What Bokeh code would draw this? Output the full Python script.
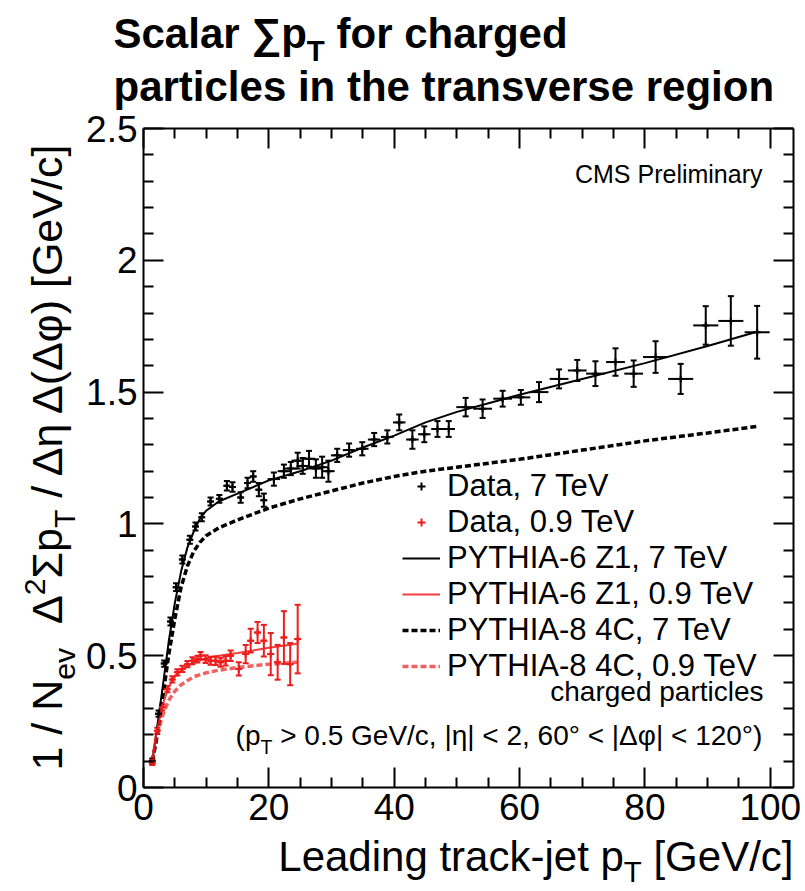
import math
from bokeh.plotting import figure
from bokeh.models import (Range1d, LinearAxis, FixedTicker, ColumnDataSource, Whisker,
                          TeeHead, Label, Legend, LegendItem, NumeralTickFormatter,
                          CustomLabelingPolicy)
from bokeh.embed import file_html
from bokeh.resources import INLINE

# ---------------- data ----------------
x_ticks = [0, 20, 40, 60, 80, 100]
x_minor = [5, 10, 15, 25, 30, 35, 45, 50, 55, 65, 70, 75, 85, 90, 95]
y_ticks = [0, 0.5, 1.0, 1.5, 2.0, 2.5]
y_minor = [0.1, 0.2, 0.3, 0.4, 0.6, 0.7, 0.8, 0.9, 1.1, 1.2, 1.3, 1.4,
           1.6, 1.7, 1.8, 1.9, 2.1, 2.2, 2.3, 2.4]
X_MAX, Y_MAX = 103.7, 2.5

# Data, 7 TeV
x7 = [1.4, 2.4, 3.3, 4.3, 5.2, 6.2, 7.4, 8.3, 9.3, 10.7, 12.1, 13.3, 14.2, 15.5, 16.6, 17.5,
      18.4, 19.2, 20.8, 22.4, 23.5, 24.6, 25.4, 26.4, 27.5, 28.5, 29.5, 30.9, 32.8, 34.9,
      36.8, 38.9, 40.8, 42.9, 44.8, 46.9, 48.7, 51.4, 54.1, 57.3, 60.2, 63.1, 66.3, 69.2,
      72.1, 75.3, 78.2, 81.7, 85.7, 89.7, 93.7, 97.9]
y7 = [0.10, 0.28, 0.47, 0.63, 0.76, 0.865, 0.94, 0.99, 1.025, 1.085, 1.095, 1.145, 1.14,
      1.10, 1.155, 1.18, 1.13, 1.09, 1.17, 1.20, 1.21, 1.24, 1.22, 1.247, 1.21, 1.215, 1.20,
      1.26, 1.28, 1.285, 1.32, 1.33, 1.385, 1.32, 1.34, 1.36, 1.36, 1.443, 1.437, 1.475,
      1.48, 1.50, 1.55, 1.582, 1.57, 1.614, 1.57, 1.633, 1.55, 1.753, 1.77, 1.727]
ey7 = [0.01, 0.012, 0.012, 0.015, 0.015, 0.015, 0.015, 0.015, 0.015, 0.015, 0.015, 0.018,
       0.018, 0.02, 0.02, 0.02, 0.025, 0.025, 0.025, 0.025, 0.025, 0.03, 0.03, 0.03, 0.035,
       0.04, 0.04, 0.025, 0.025, 0.025, 0.025, 0.025, 0.03, 0.035, 0.03, 0.03, 0.03, 0.035,
       0.035, 0.03, 0.028, 0.038, 0.036, 0.04, 0.047, 0.052, 0.05, 0.06, 0.057, 0.073,
       0.094, 0.1]
ex7 = [0.5] * 18 + [1.0] * 19 + [1.5] * 10 + [2.0] * 5

# Data, 0.9 TeV
x09 = [1.4, 2.2, 3.0, 3.8, 4.6, 5.4, 6.2, 7.0, 7.8, 8.6, 9.1, 9.9, 10.7, 11.5, 12.3, 13.1,
       13.9, 15.2, 16.3, 17.1, 18.2, 19.2, 20.3, 21.4, 22.4, 23.4, 24.6]
y09 = [0.095, 0.215, 0.304, 0.373, 0.41, 0.437, 0.45, 0.468, 0.481, 0.487, 0.50, 0.487,
       0.481, 0.481, 0.475, 0.481, 0.50, 0.45, 0.506, 0.557, 0.588, 0.557, 0.506, 0.475,
       0.569, 0.468, 0.563]
ey09 = [0.01, 0.012, 0.012, 0.012, 0.012, 0.012, 0.012, 0.012, 0.013, 0.013, 0.014, 0.015,
        0.015, 0.016, 0.017, 0.018, 0.02, 0.025, 0.035, 0.045, 0.04, 0.06, 0.08, 0.066,
        0.1, 0.08, 0.13]
ex09 = [0.4] * 17 + [0.5] * 10

# PYTHIA curves
xm7 = [1.4, 2, 3, 4, 5, 6, 7, 8, 9, 10, 12, 15, 20, 25, 30, 35, 40, 45, 50, 60, 70, 80, 90, 98]
z1_7 = [0.10, 0.20, 0.37, 0.55, 0.70, 0.82, 0.91, 0.97, 1.02, 1.05, 1.085, 1.115, 1.165,
        1.20, 1.24, 1.29, 1.335, 1.385, 1.425, 1.49, 1.55, 1.61, 1.675, 1.73]
c4_7 = [0.10, 0.17, 0.33, 0.50, 0.64, 0.76, 0.84, 0.895, 0.93, 0.955, 0.985, 1.015, 1.06,
        1.095, 1.125, 1.155, 1.18, 1.20, 1.215, 1.245, 1.28, 1.315, 1.345, 1.37]
xm09 = [1.4, 2, 3, 4, 5, 6, 8, 10, 12, 15, 20, 24.5]
z1_09 = [0.10, 0.20, 0.31, 0.38, 0.42, 0.445, 0.475, 0.49, 0.50, 0.51, 0.53, 0.545]
c4_09 = [0.10, 0.18, 0.27, 0.33, 0.365, 0.39, 0.42, 0.435, 0.445, 0.455, 0.468, 0.475]

legend_labels = ["Data, 7 TeV", "Data, 0.9 TeV", "PYTHIA-6 Z1, 7 TeV",
                 "PYTHIA-6 Z1, 0.9 TeV", "PYTHIA-8 4C, 7 TeV", "PYTHIA-8 4C, 0.9 TeV"]

# ---------------- layout ----------------
FONT = "Liberation Sans"
W, H = 805, 891
FL, FR, FT, FB = 143, 793, 128, 787        # data-area edges in canvas px
RED = "#ee1c1c"
SX = (FR - FL) / X_MAX
SY = (FB - FT) / Y_MAX

# the frame fills the whole canvas; the data area is placed through the ranges
p = figure(width=W, height=H, output_backend="svg", toolbar_location=None,
           x_range=Range1d(-FL / SX, X_MAX + (W - FR) / SX),
           y_range=Range1d(-(H - FB) / SY, Y_MAX + FT / SY),
           x_axis_type=None, y_axis_type=None,
           min_border_left=0, min_border_right=0, min_border_top=0, min_border_bottom=0)
p.outline_line_color = None
p.background_fill_color = "white"
p.border_fill_color = "white"

hide_all = CustomLabelingPolicy(
    code="for (const i of Array.from(indices)) { indices.unset(i) } return indices")


def mk_axis(ticks, minor, loc, bounds, show_labels, fmt=None):
    ax = LinearAxis(ticker=FixedTicker(ticks=ticks, minor_ticks=minor),
                    fixed_location=loc, bounds=bounds)
    ax.major_tick_in = 20
    ax.major_tick_out = 0
    ax.minor_tick_in = 10
    ax.minor_tick_out = 0
    ax.axis_line_width = 2
    ax.axis_line_color = "black"
    ax.major_tick_line_width = 2
    ax.minor_tick_line_width = 2
    ax.major_label_text_font = FONT
    ax.major_label_text_color = "black"
    ax.major_label_text_font_size = "37px"
    ax.major_label_standoff = 6
    if not show_labels:
        ax.major_label_policy = hide_all
    if fmt is not None:
        ax.formatter = fmt
    return ax


p.add_layout(mk_axis(x_ticks, x_minor, 0, (0, X_MAX), True), "below")
p.add_layout(mk_axis(x_ticks, x_minor, Y_MAX, (0, X_MAX), False), "above")
p.add_layout(mk_axis(y_ticks, y_minor, 0, (0, Y_MAX), True,
                     NumeralTickFormatter(format="0.[0]")), "left")
p.add_layout(mk_axis(y_ticks, y_minor, X_MAX, (0, Y_MAX), False), "right")

# ---------------- curves ----------------
r_z17 = p.line(xm7, z1_7, line_color="black", line_width=2)
r_c47 = p.line(xm7, c4_7, line_color="black", line_width=3.5, line_dash="6 3")
r_z109 = p.line(xm09, z1_09, line_color=RED, line_width=2, line_alpha=0.85)
r_c409 = p.line(xm09, c4_09, line_color=RED, line_width=3.5, line_dash="6 3", line_alpha=0.7)


# ---------------- data points ----------------
def data_series(xs, ys, eys, exs, color):
    src = ColumnDataSource(dict(
        x=xs, y=ys,
        lo=[y - e for y, e in zip(ys, eys)], hi=[y + e for y, e in zip(ys, eys)],
        xl=[x - e for x, e in zip(xs, exs)], xh=[x + e for x, e in zip(xs, exs)]))
    w = Whisker(source=src, base="x", upper="hi", lower="lo", dimension="height",
                line_color=color, line_width=2,
                upper_head=TeeHead(size=6, line_color=color, line_width=2),
                lower_head=TeeHead(size=6, line_color=color, line_width=2))
    p.add_layout(w)
    p.segment(x0="xl", y0="y", x1="xh", y1="y", source=src, line_color=color, line_width=2)
    return p.scatter("x", "y", source=src, marker="cross", size=7, line_color=color,
                     line_width=2)


r_d7 = data_series(x7, y7, ey7, ex7, "black")
r_d09 = data_series(x09, y09, ey09, ex09, RED)

# ---------------- legend ----------------
legend = Legend(items=[LegendItem(label=lab, renderers=[r]) for lab, r in
                       zip(legend_labels, [r_d7, r_d09, r_z17, r_z109, r_c47, r_c409])],
                location=(402, H - 684))
legend.label_text_font = FONT
legend.label_text_font_size = "31px"
legend.label_text_color = "black"
legend.glyph_width = 38
legend.glyph_height = 20
legend.label_standoff = 7
legend.padding = 0
legend.margin = 0
legend.spacing = 0
legend.border_line_color = None
legend.background_fill_alpha = 0
p.add_layout(legend)

# ---------------- texts ----------------
REG = {' ': 278, '(': 333, ')': 333, ',': 278, '-': 333, '.': 278, '/': 278, '<': 584,
       '>': 584, '[': 278, ']': 278, '|': 260, '°': 400,
       'A': 667, 'C': 722, 'E': 667, 'G': 778, 'H': 722, 'I': 278, 'L': 556, 'M': 833,
       'N': 722, 'P': 667, 'S': 667, 'T': 611, 'V': 667, 'Y': 667, 'Z': 611,
       'a': 556, 'c': 500, 'd': 556, 'e': 556, 'g': 556, 'h': 556, 'i': 222, 'j': 222,
       'k': 500, 'l': 222, 'm': 833, 'n': 556, 'o': 556, 'p': 556, 'r': 333, 's': 500,
       't': 278, 'v': 500, 'y': 500, 'Δ': 668, 'Σ': 618, 'η': 556, 'φ': 650, '∑': 713}
BOLD = {' ': 278, 'S': 667, 'T': 611, 'a': 556, 'c': 556, 'd': 611, 'e': 556, 'f': 333,
        'g': 611, 'h': 611, 'i': 278, 'l': 278, 'n': 611, 'o': 611, 'p': 611, 'r': 389,
        's': 556, 't': 333, 'v': 556, '∑': 713}
BASE_SHIFT = 0.36   # empirical offset of the rendered alphabetic baseline (em)


def tw(s, bold=False):
    tab = BOLD if bold else REG
    return sum(tab.get(ch, 556) for ch in s) / 1000.0


def add_text(text, cx, cy, size, bold=False, align="left", rotated=False, color="black"):
    # cx, cy: canvas pixels (baseline position) from the top-left corner
    if rotated:
        cx = cx - BASE_SHIFT * size
    else:
        cy = cy - BASE_SHIFT * size
    p.add_layout(Label(x=cx, y=H - cy, x_units="screen", y_units="screen", text=text,
                       text_font=FONT, text_font_size=f"{size:.1f}px",
                       text_font_style="bold" if bold else "normal", text_align=align,
                       text_baseline="alphabetic", angle=math.pi / 2 if rotated else 0.0,
                       text_color=color))


def run_width(pieces, size, bold=False):
    return sum(tw(t, bold) * (size if k == "n" else size * 0.7) for t, k in pieces)


def runs(pieces, cx, cy, size, bold=False, rotated=False, sub=0.3):
    pos = 0.0
    for text, kind in pieces:
        s = size if kind == "n" else size * 0.7
        off = 0.0 if kind == "n" else (sub * size if kind == "sub" else -0.38 * size)
        lead = len(text) - len(text.lstrip(" "))
        pos += tw(" " * lead, bold) * s          # leading blanks are advanced by hand
        body = text.lstrip(" ")
        if not rotated:
            add_text(body, cx + pos, cy + off, s, bold)
        else:
            add_text(body, cx + off, cy - pos, s, bold, rotated=True)
        pos += tw(body, bold) * s


# title
runs([("Scalar ∑p", "n"), ("T", "sub"), (" for charged", "n")], 113, 48, 42, bold=True)
runs([("particles in the transverse region", "n")], 113, 101, 42, bold=True)

# x-axis title (right aligned to the data-area edge)
xt = [("Leading track-jet p", "n"), ("T", "sub"), (" [GeV/c]", "n")]
runs(xt, FR - run_width(xt, 42), 871, 42, sub=0.25)

# y-axis title (rotated)
yt = [("1 / N", "n"), ("ev", "sub"), ("  Δ", "n"), ("2", "sup"), ("Σp", "n"), ("T", "sub"),
      (" / Δη Δ(Δφ) [GeV/c]", "n")]
runs(yt, 62, 770, 43, rotated=True)

# CMS Preliminary
add_text("CMS Preliminary", 762, 182, 25, align="right")
# charged particles
add_text("charged particles", 763, 701, 28, align="right")
# cuts
ct = [("(p", "n"), ("T", "sub"), (" > 0.5 GeV/c, |η| < 2, 60° < |Δφ| < 120°)", "n")]
runs(ct, 762 - run_width(ct, 28), 745, 28)

open("out.html", "w").write(file_html(p, INLINE))
